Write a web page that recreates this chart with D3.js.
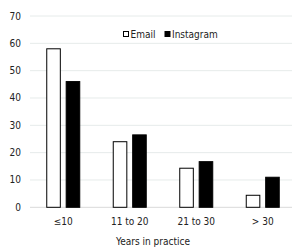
<!DOCTYPE html>
<html>
<head>
<script src="https://d3js.org/d3.v7.min.js"></script>
<style>
  body { margin: 0; background: #fff; }
  text { font-family: "DejaVu Sans Condensed", "Liberation Sans Narrow", sans-serif; font-stretch: condensed; fill: #222; }
</style>
</head>
<body>
<svg id="viz"></svg>
<script>
var categories = ["\u226410", "11 to 20", "21 to 30", "> 30"];
var series = ["Email", "Instagram"];
var emailValues = [58, 24, 14.3, 4.4];
var instagramValues = [46, 26.5, 16.7, 11];
var yTicks = [0, 10, 20, 30, 40, 50, 60, 70];

var width = 292, height = 249;
var svg = d3.select("#viz").attr("width", width).attr("height", height);

var x = d3.scaleBand().domain(categories).range([30, 296]);
var y = d3.scaleLinear().domain([0, 70]).range([207.3, 16]);
var inner = d3.scaleBand().domain(series).range([0, 34]).paddingInner(0.25);

// gridlines
svg.append("g").selectAll("line")
  .data(yTicks.filter(function(d) { return d > 0; }))
  .enter().append("line")
  .attr("x1", 30).attr("x2", width)
  .attr("y1", function(d) { return y(d); }).attr("y2", function(d) { return y(d); })
  .attr("stroke", "#e6ebea").attr("stroke-width", 1);

svg.append("line")
  .attr("x1", 30).attr("x2", width)
  .attr("y1", y(0)).attr("y2", y(0))
  .attr("stroke", "#d9d9d9").attr("stroke-width", 1);

// y labels
svg.append("g").selectAll("text")
  .data(yTicks).enter().append("text")
  .attr("x", 21).attr("y", function(d) { return y(d); })
  .attr("dy", "0.35em").attr("text-anchor", "end")
  .style("font-size", "10px")
  .text(function(d) { return d; });

// bars
var rows = categories.map(function(c, i) {
  return { cat: c, values: [{ s: "Email", v: emailValues[i] }, { s: "Instagram", v: instagramValues[i] }] };
});

var groups = svg.append("g").selectAll("g")
  .data(rows).enter().append("g")
  .attr("transform", function(d) { return "translate(" + (x(d.cat) + x.bandwidth() / 2 - 17) + ",0)"; });

groups.selectAll("rect")
  .data(function(d) { return d.values; })
  .enter().append("rect")
  .attr("x", function(d) { return inner(d.s) + 0.5; })
  .attr("width", inner.bandwidth() - 1)
  .attr("y", function(d) { return y(d.v); })
  .attr("height", function(d) { return y(0) - y(d.v); })
  .attr("fill", function(d) { return d.s === "Email" ? "#fff" : "#000"; })
  .attr("stroke", "#000").attr("stroke-width", 1);

// x labels
svg.append("g").selectAll("text")
  .data(categories).enter().append("text")
  .attr("x", function(d) { return x(d) + x.bandwidth() / 2; })
  .attr("y", 221).attr("dy", "0.35em")
  .attr("text-anchor", "middle")
  .style("font-size", "10px")
  .text(function(d) { return d; });

svg.append("text")
  .attr("x", 153).attr("y", 241).attr("dy", "0.35em")
  .attr("text-anchor", "middle")
  .style("font-size", "10px")
  .text("Years in practice");

// legend
var legend = svg.append("g").selectAll("g")
  .data(series).enter().append("g")
  .attr("transform", function(d, i) { return "translate(" + [123.5, 165][i] + ",31.5)"; });

legend.append("rect")
  .attr("width", 5).attr("height", 5)
  .attr("fill", function(d) { return d === "Email" ? "#fff" : "#000"; })
  .attr("stroke", "#000").attr("stroke-width", 1);

legend.append("text")
  .attr("x", 7).attr("y", 2.5).attr("dy", "0.35em")
  .style("font-size", "10px")
  .text(function(d) { return d; });
</script>
</body>
</html>
